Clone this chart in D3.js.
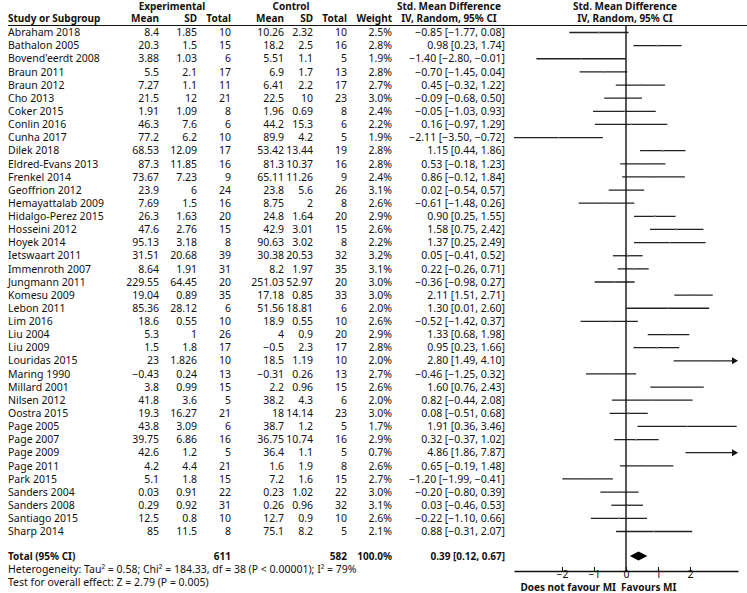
<!DOCTYPE html>
<html>
<head>
<meta charset="utf-8">
<script src="https://cdn.jsdelivr.net/npm/d3@7"></script>
<style>
  body { margin: 0; background: #fff; }
  svg text { font-family: "Noto Sans", sans-serif; font-size: 10.5px; fill: #111; }
  svg text.b { font-weight: bold; font-size: 10px; }
</style>
</head>
<body>
<svg width="747" height="593"></svg>
<script>
const studies = ["Abraham 2018","Bathalon 2005","Bovend'eerdt 2008","Braun 2011","Braun 2012","Cho 2013","Coker 2015","Conlin 2016","Cunha 2017","Dilek 2018","Eldred-Evans 2013","Frenkel 2014","Geoffrion 2012","Hemayattalab 2009","Hidalgo-Perez 2015","Hosseini 2012","Hoyek 2014","Ietswaart 2011","Immenroth 2007","Jungmann 2011","Komesu 2009","Lebon 2011","Lim 2016","Liu 2004","Liu 2009","Louridas 2015","Maring 1990","Millard 2001","Nilsen 2012","Oostra 2015","Page 2005","Page 2007","Page 2009","Page 2011","Park 2015","Sanders 2004","Sanders 2008","Santiago 2015","Sharp 2014"];

const expMean = ["8.4","20.3","3.88","5.5","7.27","21.5","1.91","46.3","77.2","68.53","87.3","73.67","23.9","7.69","26.3","47.6","95.13","31.51","8.64","229.55","19.04","85.36","18.6","5.3","1.5","23","-0.43","3.8","41.8","19.3","43.8","39.75","42.6","4.2","5.1","0.03","0.29","12.5","85"];
const expSD = ["1.85","1.5","1.03","2.1","1.1","12","1.09","7.6","6.2","12.09","11.85","7.23","6","1.5","1.63","2.76","3.18","20.68","1.91","64.45","0.89","28.12","0.55","1","1.8","1.826","0.24","0.99","3.6","16.27","3.09","6.86","1.2","4.4","1.8","0.91","0.92","0.8","11.5"];
const expN = [10,15,6,17,11,21,8,6,10,17,16,9,24,16,20,15,8,39,31,20,35,6,10,26,17,10,13,15,5,21,6,16,5,21,15,22,31,10,8];

const ctlMean = ["10.26","18.2","5.51","6.9","6.41","22.5","1.96","44.2","89.9","53.42","81.3","65.11","23.8","8.75","24.8","42.9","90.63","30.38","8.2","251.03","17.18","51.56","18.9","4","-0.5","18.5","-0.31","2.2","38.2","18","38.7","36.75","36.4","1.6","7.2","0.23","0.26","12.7","75.1"];
const ctlSD = ["2.32","2.5","1.1","1.7","2.2","10","0.69","15.3","4.2","13.44","10.37","11.26","5.6","2","1.64","3.01","3.02","20.53","1.97","52.97","0.85","18.81","0.55","0.9","2.3","1.19","0.26","0.96","4.3","14.14","1.2","10.74","1.1","1.9","1.6","1.02","0.96","0.9","8.2"];
const ctlN = [10,16,5,13,17,23,8,6,5,19,16,9,26,8,20,15,8,32,35,20,33,6,10,20,17,10,13,15,6,23,5,16,5,8,15,22,32,10,5];

const weights = [2.5,2.8,1.9,2.8,2.7,3.0,2.4,2.2,1.9,2.8,2.8,2.4,3.1,2.6,2.9,2.6,2.2,3.2,3.1,3.0,3.0,2.0,2.6,2.9,2.8,2.0,2.7,2.6,2.0,3.0,1.7,2.9,0.7,2.6,2.7,3.0,3.1,2.6,2.1];
const smd = [-0.85,0.98,-1.40,-0.70,0.45,-0.09,-0.05,0.16,-2.11,1.15,0.53,0.86,0.02,-0.61,0.90,1.58,1.37,0.05,0.22,-0.36,2.11,1.30,-0.52,1.33,0.95,2.80,-0.46,1.60,0.82,0.08,1.91,0.32,4.86,0.65,-1.20,-0.20,0.03,-0.22,0.88];
const lower = [-1.77,0.23,-2.80,-1.45,-0.32,-0.68,-1.03,-0.97,-3.50,0.44,-0.18,-0.12,-0.54,-1.48,0.25,0.75,0.25,-0.41,-0.26,-0.98,1.51,0.01,-1.42,0.68,0.23,1.49,-1.25,0.76,-0.44,-0.51,0.36,-0.37,1.86,-0.19,-1.99,-0.80,-0.46,-1.10,-0.31];
const upper = [0.08,1.74,-0.01,0.04,1.22,0.50,0.93,1.29,-0.72,1.86,1.23,1.84,0.57,0.26,1.55,2.42,2.49,0.52,0.71,0.27,2.71,2.60,0.37,1.98,1.66,4.10,0.32,2.43,2.08,0.68,3.46,1.02,7.87,1.48,-0.41,0.39,0.53,0.66,2.07];

const total = { expN: 611, ctlN: 582, weight: "100.0%", est: 0.39, lo: 0.12, hi: 0.67 };
const axisTicks = [-2, -1, 0, 1, 2];
const heterogeneity = "Heterogeneity: Tau\u00b2 = 0.58; Chi\u00b2 = 184.33, df = 38 (P < 0.00001); I\u00b2 = 79%";
const overall = "Test for overall effect: Z = 2.79 (P = 0.005)";

const svg = d3.select("svg");
const minus = s => String(s).replace(/^-/, "\u2212");
const f2 = v => minus(v.toFixed(2));
const ciText = (e, l, h) => `${f2(e)} [${f2(l)}, ${f2(h)}]`;

// row positions
const y = d3.scaleLinear().domain([0, studies.length - 1]).range([32.5, 531.5]);
const yTotal = 556;

// forest x scale
const x = d3.scaleLinear().domain([-3.5, 3.5]).range([514, 738]);

// column right edges
const cols = [
  { key: "Mean", x: 159, v: expMean },
  { key: "SD", x: 197, v: expSD },
  { key: "Total", x: 231, v: expN },
  { key: "Mean", x: 284, v: ctlMean },
  { key: "SD", x: 313, v: ctlSD },
  { key: "Total", x: 347, v: ctlN },
  { key: "Weight", x: 392, v: weights.map(w => w.toFixed(1) + "%") }
];
const ciRight = 505;

// headers
const hdr = svg.append("g").attr("class", "hdr");
hdr.append("text").attr("class", "b").attr("x", 172).attr("y", 6).attr("dy", "0.35em").attr("text-anchor", "middle").text("Experimental");
hdr.append("text").attr("class", "b").attr("x", 291).attr("y", 6).attr("dy", "0.35em").attr("text-anchor", "middle").text("Control");
[449, 625].forEach(cx => {
  hdr.append("text").attr("class", "b").attr("x", cx).attr("y", 6).attr("dy", "0.35em").attr("text-anchor", "middle").text("Std. Mean Difference");
  hdr.append("text").attr("class", "b").attr("x", cx).attr("y", 18.7).attr("dy", "0.35em").attr("text-anchor", "middle").text("IV, Random, 95% CI");
});
hdr.append("text").attr("class", "b").attr("x", 8).attr("y", 18.7).attr("dy", "0.35em").text("Study or Subgroup");
cols.forEach(c => {
  hdr.append("text").attr("class", "b").attr("x", c.x).attr("y", 18.7).attr("dy", "0.35em").attr("text-anchor", "end").text(c.key);
});
svg.append("line").attr("x1", 8).attr("x2", 747).attr("y1", 25.5).attr("y2", 25.5).attr("stroke", "#111").attr("stroke-width", 1.2);

// table rows
const rows = svg.selectAll("g.row").data(studies).enter().append("g").attr("class", "row")
  .attr("transform", (d, i) => `translate(0,${y(i)})`);
rows.append("text").attr("x", 8).attr("dy", "0.35em").text(d => d);
cols.forEach(c => {
  rows.append("text").attr("x", c.x).attr("dy", "0.35em").attr("text-anchor", "end").text((d, i) => minus(c.v[i]));
});
rows.append("text").attr("x", ciRight).attr("dy", "0.35em").attr("text-anchor", "end")
  .text((d, i) => ciText(smd[i], lower[i], upper[i]));

// zero line
svg.append("line").attr("x1", x(0)).attr("x2", x(0)).attr("y1", 25.5).attr("y2", 571).attr("stroke", "#111").attr("stroke-width", 1.4);

// CI lines
const xmin = x.domain()[0], xmax = x.domain()[1];
rows.append("line")
  .attr("x1", (d, i) => x(Math.max(lower[i], xmin)))
  .attr("x2", (d, i) => x(Math.min(upper[i], xmax)) - (upper[i] > xmax ? 4 : 0))
  .attr("stroke", "#222").attr("stroke-width", 1.3);
rows.filter((d, i) => upper[i] > xmax).append("path")
  .attr("d", `M${x(xmax)},0L${x(xmax) - 6},-3.5L${x(xmax) - 6},3.5Z`).attr("fill", "#111");
rows.append("rect")
  .attr("x", (d, i) => x(smd[i]) - weights[i] * 0.3)
  .attr("y", (d, i) => -weights[i] * 0.3)
  .attr("width", (d, i) => weights[i] * 0.6)
  .attr("height", (d, i) => weights[i] * 0.6)
  .attr("fill", "#777");

// total row
const tot = svg.append("g").attr("transform", `translate(0,${yTotal})`);
tot.append("text").attr("class", "b").attr("x", 8).attr("dy", "0.35em").text("Total (95% CI)");
tot.append("text").attr("class", "b").attr("x", 231).attr("dy", "0.35em").attr("text-anchor", "end").text(total.expN);
tot.append("text").attr("class", "b").attr("x", 347).attr("dy", "0.35em").attr("text-anchor", "end").text(total.ctlN);
tot.append("text").attr("class", "b").attr("x", 392).attr("dy", "0.35em").attr("text-anchor", "end").text(total.weight);
tot.append("text").attr("class", "b").attr("x", ciRight).attr("dy", "0.35em").attr("text-anchor", "end").text(ciText(total.est, total.lo, total.hi));
tot.append("path")
  .attr("d", `M${x(total.lo)},0L${x(total.est)},-4.5L${x(total.hi)},0L${x(total.est)},4.5Z`)
  .attr("fill", "#000");

svg.append("text").attr("x", 8).attr("y", 569).attr("dy", "0.35em").text(heterogeneity);
svg.append("text").attr("x", 8).attr("y", 582).attr("dy", "0.35em").text(overall);

// axis
const axis = d3.axisBottom(x).tickValues(axisTicks).tickSizeInner(-4).tickSizeOuter(0).tickPadding(0).tickFormat(d3.format("d"));
const gx = svg.append("g").attr("transform", "translate(0,571)").call(axis);
gx.select(".domain").attr("stroke", "#111").attr("stroke-width", 1.3);
gx.selectAll(".tick line").attr("stroke", "#111");
gx.selectAll(".tick text").attr("font-family", "Noto Sans").attr("font-size", "9px").attr("fill", "#111");

svg.append("text").attr("class", "b").attr("x", x(0) - 10).attr("y", 587.5).attr("dy", "0.35em").attr("text-anchor", "end").text("Does not favour MI");
svg.append("text").attr("class", "b").attr("x", x(0) - 5).attr("y", 587.5).attr("dy", "0.35em").text("Favours MI");
</script>
</body>
</html>
